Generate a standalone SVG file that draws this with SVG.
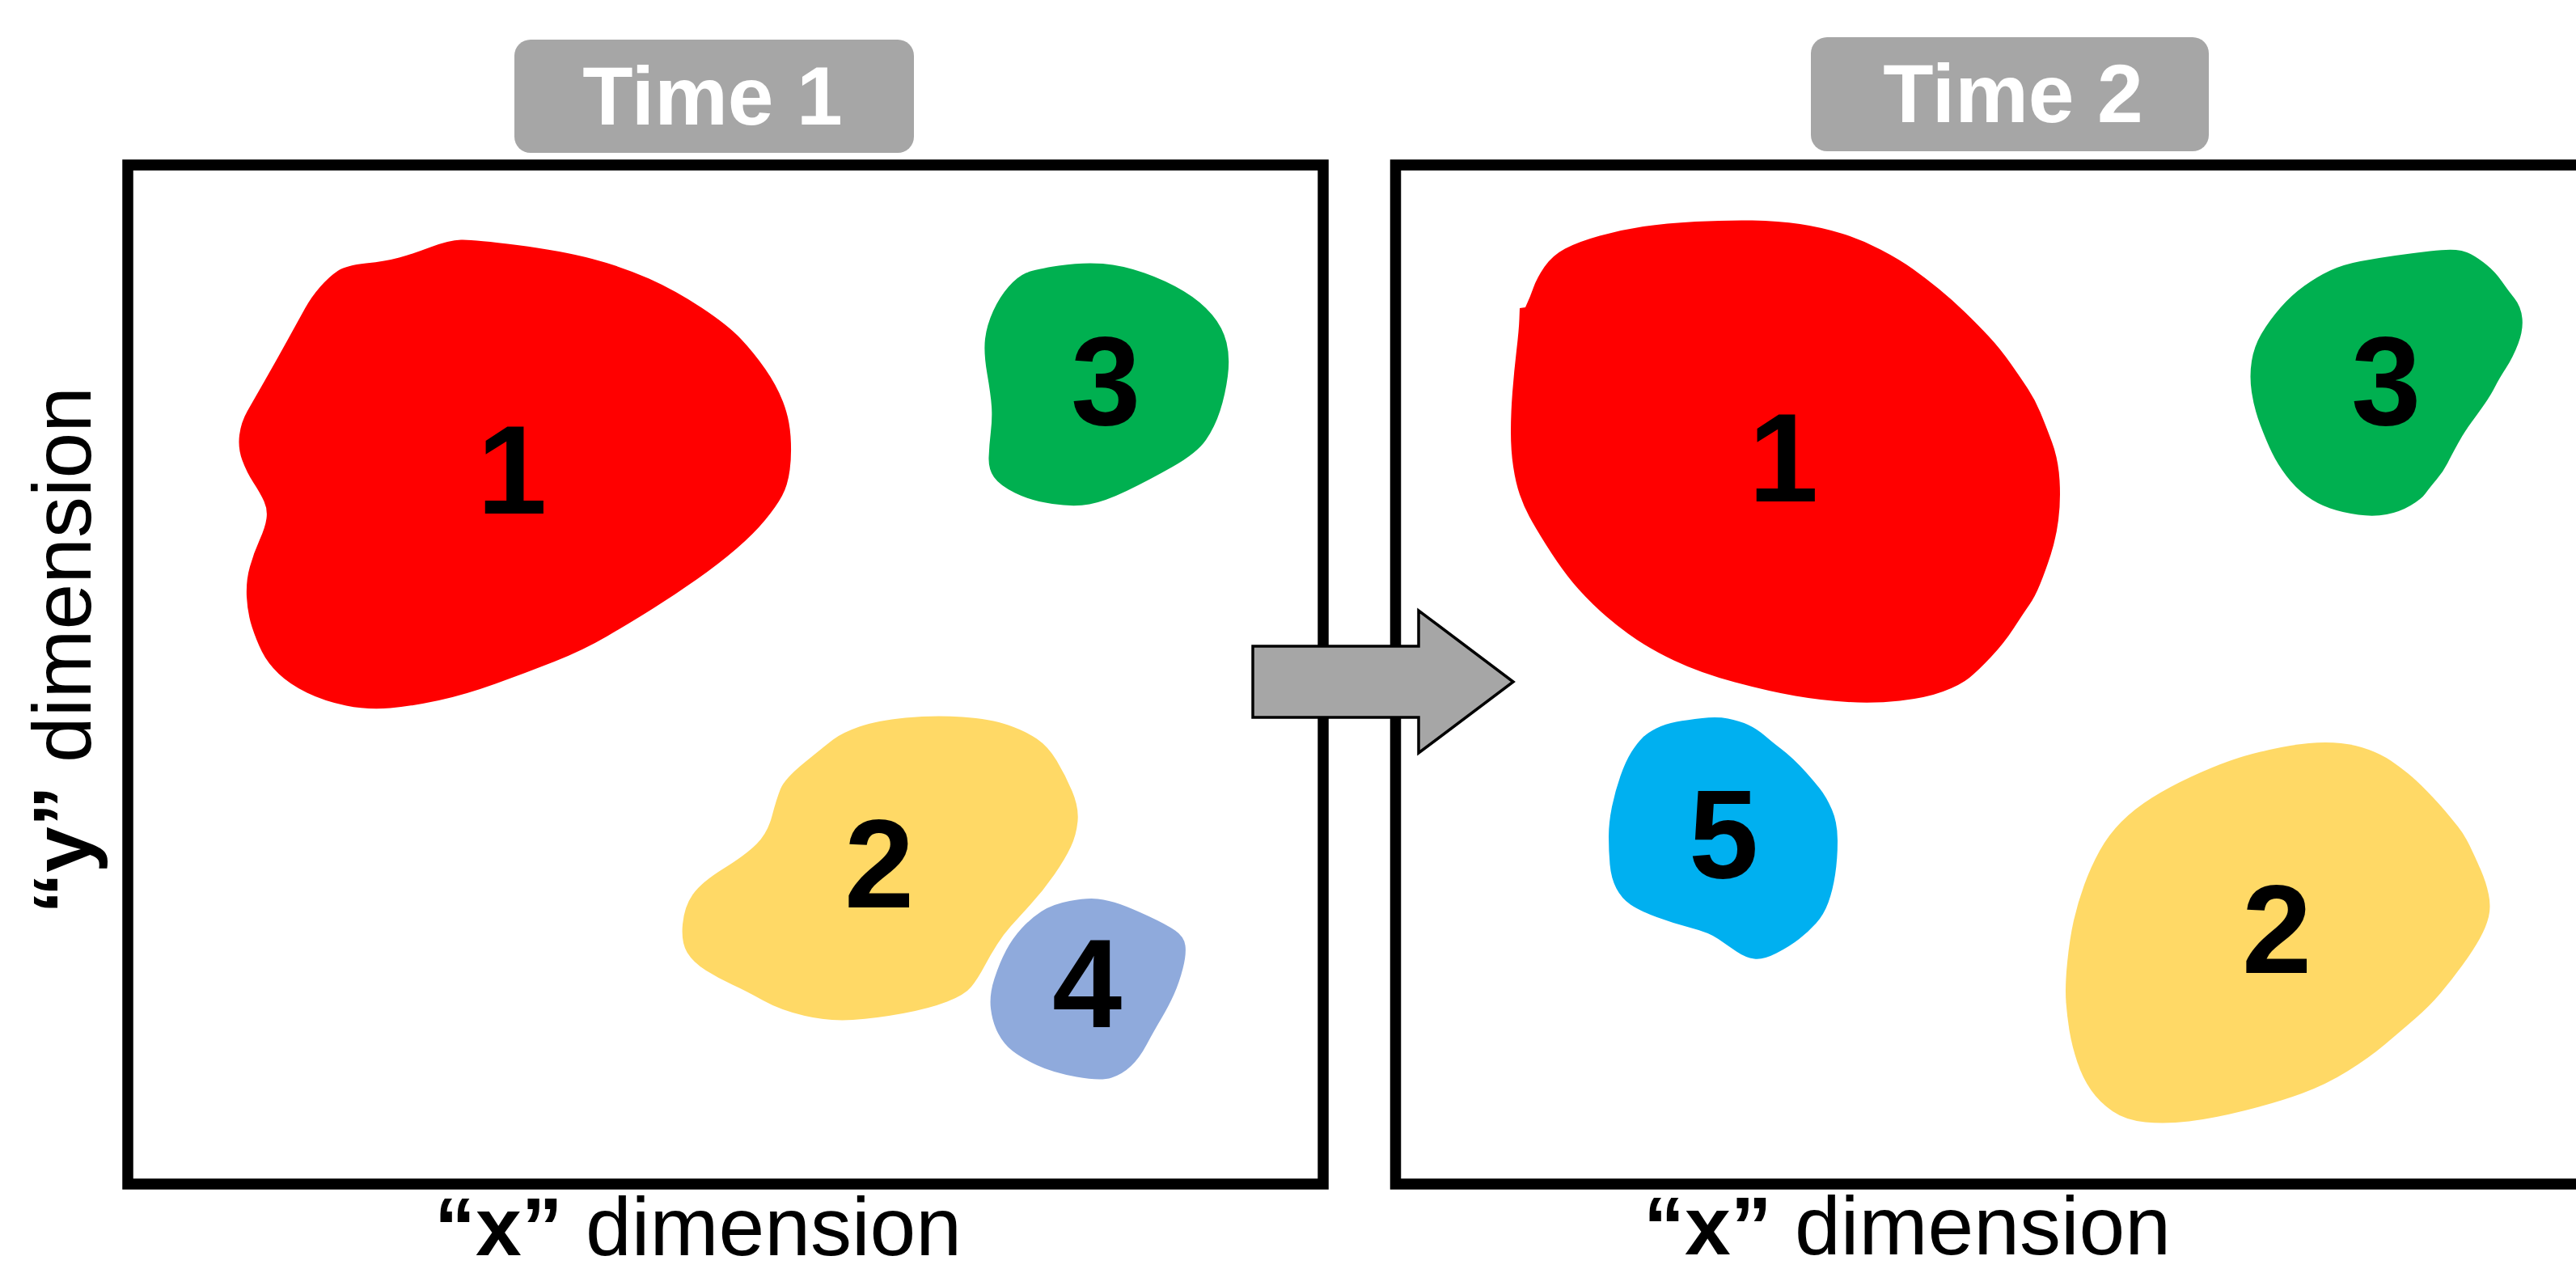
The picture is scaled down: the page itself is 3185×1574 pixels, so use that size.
<svg xmlns="http://www.w3.org/2000/svg" width="3185" height="1574" viewBox="0 0 3185 1574">
<style>
.frame{fill:none;stroke:#000;stroke-width:13.5}
.tag{fill:#A6A6A6}
.tagtxt{font-family:"Liberation Sans",Arial,sans-serif;font-weight:bold;font-size:102px;fill:#fff;text-anchor:middle}
.num{font-family:"Liberation Sans",Arial,sans-serif;font-weight:bold;font-size:155px;fill:#000;text-anchor:middle}
.axis{font-family:"Liberation Sans",Arial,sans-serif;font-size:102px;fill:#000}
.b{font-weight:bold}
.red{fill:#FF0000}.green{fill:#00B050}.yellow{fill:#FFD966}.blue{fill:#8FAADC}.cyan{fill:#00B0F0}
.arrow{fill:#A6A6A6;stroke:#000;stroke-width:3.5}
</style>
<rect x="0" y="0" width="3185" height="1574" fill="#fff"/>

<g id="frame-time1"><rect class="frame" x="158" y="204" width="1478" height="1260"/></g>
<g id="frame-time2"><rect class="frame" x="1725.5" y="204" width="1520" height="1260"/></g>

<g id="label-time1"><rect class="tag" x="636" y="49" width="494" height="140" rx="20"/><text class="tagtxt" x="881" y="154">Time 1</text></g>
<g id="label-time2"><rect class="tag" x="2239" y="46" width="492" height="141" rx="20"/><text class="tagtxt" x="2489" y="151">Time 2</text></g>

<g id="t1-cluster1"><path class="red" d="M570,296.5 Q585,296 639.5,303 Q694,310 732,320 Q770,330 802.5,344.5 Q835,359 867.5,380.5 Q900,402 916,419 Q932,436 946,456 Q960,476 968,496.5 Q976,517 977.5,539.5 Q979,562 976.5,581 Q974,600 967,613 Q960,626 946,643 Q932,660 910.5,678.5 Q889,697 862,716 Q835,735 808,752 Q781,769 751,786.5 Q721,804 685.5,818 Q650,832 612.5,845.5 Q575,859 542.5,866 Q510,873 482.5,875.5 Q455,878 428,872.5 Q401,867 379.5,856.5 Q358,846 344.5,833 Q331,820 324,806 Q317,792 311.5,775 Q306,758 305,738 Q304,718 309,700.5 Q314,683 321,667.5 Q328,652 329.5,641 Q331,630 326.5,620 Q322,610 313.5,597 Q305,584 299.5,569 Q294,554 296,538 Q298,522 306,508 Q314,494 328,469.5 Q342,445 355.5,420.5 Q369,396 377,381.5 Q385,367 396,354.5 Q407,342 417.5,335 Q428,328 452.5,325.5 Q477,323 493.5,318.5 Q510,314 532.5,305.5 Q555,297 570,296.5 Z"/><text class="num" x="633" y="635">1</text></g>

<g id="t1-cluster3"><path class="green" d="M1309,328.5 Q1339,324 1363.5,326 Q1388,328 1415,337.5 Q1442,347 1463.5,360 Q1485,373 1498.5,389 Q1512,405 1516.5,423.5 Q1521,442 1518,465 Q1515,488 1508.5,508 Q1502,528 1491,544 Q1480,560 1450,577 Q1420,594 1393,607 Q1366,620 1347,623.5 Q1328,627 1301,623 Q1274,619 1255,609.5 Q1236,600 1229,590 Q1222,580 1222.5,565.5 Q1223,551 1225,534 Q1227,517 1226,502.5 Q1225,488 1220.5,462 Q1216,436 1218,419 Q1220,402 1228,384.5 Q1236,367 1247,354.5 Q1258,342 1268.5,337.5 Q1279,333 1309,328.5 Z"/><text class="num" x="1367" y="525">3</text></g>

<g id="t1-cluster2"><path class="yellow" d="M1119.5,887.5 Q1155,884 1190,886.5 Q1225,889 1246.5,896.5 Q1268,904 1282,913.5 Q1296,923 1306.5,940.5 Q1317,958 1325.5,978 Q1334,998 1332.5,1015 Q1331,1032 1324,1047 Q1317,1062 1303.5,1081.5 Q1290,1101 1274,1118.5 Q1258,1136 1249.5,1145.5 Q1241,1155 1233,1167.5 Q1225,1180 1217,1195 Q1209,1210 1201,1220 Q1193,1230 1171,1238.5 Q1149,1247 1116.5,1253 Q1084,1259 1054.5,1261 Q1025,1263 995,1256 Q965,1249 943.5,1237 Q922,1225 905.5,1217.5 Q889,1210 873,1200 Q857,1190 849.5,1177.5 Q842,1165 844,1143 Q846,1121 856.5,1106 Q867,1091 894.5,1074 Q922,1057 935.5,1043.5 Q949,1030 954.5,1009 Q960,988 965,975.5 Q970,963 994.5,943 Q1019,923 1030,914.5 Q1041,906 1062.5,898.5 Q1084,891 1119.5,887.5 Z"/><text class="num" x="1087" y="1122">2</text></g>

<g id="t1-cluster4"><path class="blue" d="M1322.5,1114 Q1344,1110 1357.5,1111.5 Q1371,1113 1385,1118 Q1399,1123 1420.5,1133 Q1442,1143 1453,1150.5 Q1464,1158 1465.5,1169 Q1467,1180 1462.5,1197.5 Q1458,1215 1451.5,1229.5 Q1445,1244 1435.5,1260 Q1426,1276 1417.5,1292 Q1409,1308 1398.5,1318 Q1388,1328 1374.5,1332.5 Q1361,1337 1331,1331.5 Q1301,1326 1282,1317 Q1263,1308 1252,1299.5 Q1241,1291 1234,1277.5 Q1227,1264 1225,1247 Q1223,1230 1229.5,1210 Q1236,1190 1244,1175 Q1252,1160 1263,1148 Q1274,1136 1287.5,1127 Q1301,1118 1322.5,1114 Z"/><text class="num" x="1344" y="1270">4</text></g>

<g id="t2-cluster1"><path class="red" d="M2096.5,274 Q2134,272 2166.5,272.5 Q2199,273 2225.5,277 Q2252,281 2276.5,288.5 Q2301,296 2325,308.5 Q2349,321 2365,332.5 Q2381,344 2397,357 Q2413,370 2429.5,386 Q2446,402 2459.5,416.5 Q2473,431 2486,449.5 Q2499,468 2507.5,481 Q2516,494 2522.5,509.5 Q2529,525 2537,546.5 Q2545,568 2546.5,594 Q2548,620 2545,643 Q2542,666 2535.5,686 Q2529,706 2522.5,722 Q2516,738 2509,748 Q2502,758 2490,776.5 Q2478,795 2462,812 Q2446,829 2435,838 Q2424,847 2402.5,855 Q2381,863 2349,866.5 Q2317,870 2284.5,868 Q2252,866 2220,860.5 Q2188,855 2145,843.5 Q2102,832 2069.5,816.5 Q2037,801 2013,783.5 Q1989,766 1970,747.5 Q1951,729 1938,712 Q1925,695 1911.5,673.5 Q1898,652 1891,639 Q1884,626 1879,611.5 Q1874,597 1871,577 Q1868,557 1868,534 Q1868,511 1870,485 Q1872,459 1875,433.5 Q1878,408 1878.5,394.5 L1879,381 L1886,380 Q1892,367 1896,355.5 Q1900,344 1909.5,330 Q1919,316 1935,307.5 Q1951,299 1978,291.5 Q2005,284 2032,280 Q2059,276 2096.5,274 Z"/><text class="num" x="2205" y="620">1</text></g>

<g id="t2-cluster3"><path class="green" d="M3004.5,310.5 Q3026,308 3036.5,309 Q3047,310 3055.5,314.5 Q3064,319 3074.5,327.5 Q3085,336 3093,347.5 Q3101,359 3109,369 Q3117,379 3118.5,393.5 Q3120,408 3113.5,425 Q3107,442 3098.5,455 Q3090,468 3085,478 Q3080,488 3072,499.5 Q3064,511 3055.5,522.5 Q3047,534 3039,548.5 Q3031,563 3026,573 Q3021,583 3012.5,593 Q3004,603 2999,610 Q2994,617 2980.5,625 Q2967,633 2951,636 Q2935,639 2916,636.5 Q2897,634 2881,628.5 Q2865,623 2851.5,613 Q2838,603 2827,588.5 Q2816,574 2809,559.5 Q2802,545 2794.5,525 Q2787,505 2784,485 Q2781,465 2784,446.5 Q2787,428 2796.5,412 Q2806,396 2819.5,380.5 Q2833,365 2849,353.5 Q2865,342 2881,334.5 Q2897,327 2918.5,323 Q2940,319 2961.5,316 Q2983,313 3004.5,310.5 Z"/><text class="num" x="2950" y="525">3</text></g>

<g id="t2-cluster5"><path class="cyan" d="M2104.5,888 Q2123,886 2136.5,888.5 Q2150,891 2161,896 Q2172,901 2182.5,910 Q2193,919 2201,925 Q2209,931 2217,938.5 Q2225,946 2233.5,955.5 Q2242,965 2250,975 Q2258,985 2265,1001 Q2272,1017 2272,1039.5 Q2272,1062 2269,1081.5 Q2266,1101 2260.5,1116 Q2255,1131 2245.5,1141.5 Q2236,1152 2224.5,1161 Q2213,1170 2196.5,1178.5 Q2180,1187 2169,1185.5 Q2158,1184 2147,1176.5 Q2136,1169 2124.5,1161 Q2113,1153 2091.5,1147.5 Q2070,1142 2048.5,1134 Q2027,1126 2016,1118.5 Q2005,1111 1998.5,1098.5 Q1992,1086 1990.5,1069 Q1989,1052 1989,1034.5 Q1989,1017 1993,997.5 Q1997,978 2003.5,959.5 Q2010,941 2017,930 Q2024,919 2030.5,912.5 Q2037,906 2048,900.5 Q2059,895 2072.5,892.5 Q2086,890 2104.5,888 Z"/><text class="num" x="2131" y="1085">5</text></g>

<g id="t2-cluster2"><path class="yellow" d="M2854.5,919 Q2876,917 2894.5,919 Q2913,921 2929,927 Q2945,933 2956,940.5 Q2967,948 2977.5,956.5 Q2988,965 3001.5,979 Q3015,993 3023,1002.5 Q3031,1012 3039,1022 Q3047,1032 3053.5,1045.5 Q3060,1059 3067,1075 Q3074,1091 3077,1106 Q3080,1121 3077,1133.5 Q3074,1146 3066,1160.5 Q3058,1175 3044.5,1193.5 Q3031,1212 3017.5,1228 Q3004,1244 2985.5,1260 Q2967,1276 2948,1292 Q2929,1308 2902.5,1324.5 Q2876,1341 2846,1352 Q2816,1363 2776,1373 Q2736,1383 2706.5,1386.5 Q2677,1390 2652.5,1387.5 Q2628,1385 2612,1374 Q2596,1363 2585.5,1348 Q2575,1333 2568.5,1313.5 Q2562,1294 2559,1276.5 Q2556,1259 2554.5,1239.5 Q2553,1220 2556,1190 Q2559,1160 2564,1138 Q2569,1116 2577,1094 Q2585,1072 2596,1052 Q2607,1032 2623,1016 Q2639,1000 2660.5,986.5 Q2682,973 2709,960.5 Q2736,948 2757.5,940.5 Q2779,933 2806,927 Q2833,921 2854.5,919 Z"/><text class="num" x="2815" y="1203">2</text></g>

<g id="axis-labels">
<text class="axis" transform="translate(112,1130) rotate(-90)"><tspan class="b">“y”</tspan> dimension</text>
<text class="axis" x="537" y="1552"><tspan class="b">“x”</tspan> dimension</text>
<text class="axis" x="2032" y="1551"><tspan class="b">“x”</tspan> dimension</text>
</g>

<g id="connectors">
<polygon class="arrow" points="1549,799 1754,799 1754,755 1871,843 1754,931 1754,887 1549,887"/>
</g>
</svg>
